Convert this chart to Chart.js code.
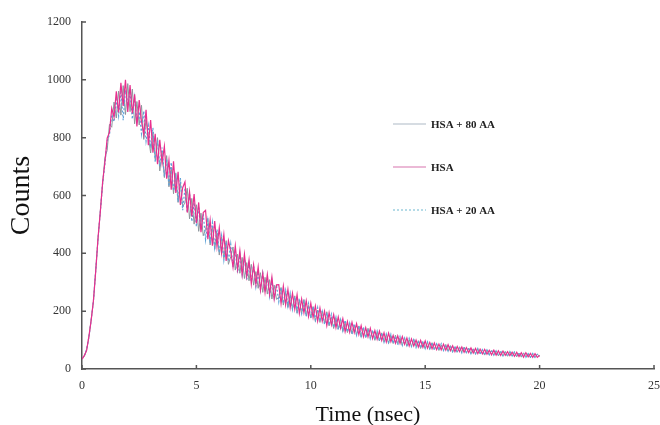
<!DOCTYPE html>
<html>
<head>
<meta charset="utf-8">
<script src="https://cdn.jsdelivr.net/npm/chart.js@4.4.1/dist/chart.umd.min.js"></script>
<style>
html, body { margin: 0; padding: 0; background: #fff; }
#wrap { width: 660px; height: 425px; }
</style>
</head>
<body>
<div id="wrap"><canvas id="myChart" width="660" height="425"></canvas></div>
<script>
var seriesNames = ["HSA + 80 AA", "HSA", "HSA + 20 AA"];
var timeStep = 0.1; // ns per channel, 0 .. 20 ns
var xTicks = [0, 5, 10, 15, 20, 25];
var yTicks = [0, 200, 400, 600, 800, 1000, 1200];

var hsa80 = [
    36, 44, 66, 108, 171, 233, 342, 448, 546, 638,
    730, 756, 846, 836, 923, 868, 961, 878, 980, 880,
    987, 890, 968, 848, 925, 844, 912, 794, 862, 806,
    747, 820, 725, 800, 685, 750, 662, 738, 630, 698,
    606, 677, 576, 645, 559, 577, 625, 519, 590, 501,
    568, 476, 539, 461, 483, 521, 429, 494, 414, 471,
    394, 457, 381, 444, 362, 388, 422, 342, 397, 331,
    386, 313, 368, 305, 362, 290, 337, 279, 333, 265,
    317, 259, 309, 242, 290, 241, 248, 282, 221, 268,
    213, 258, 206, 253, 193, 236, 192, 240, 184, 220,
    176, 216, 164, 204, 161, 201, 158, 198, 149, 179,
    140, 177, 138, 173, 130, 161, 126, 159, 122, 152,
    117, 149, 110, 140, 109, 141, 107, 131, 99, 129,
    97, 125, 93, 119, 88, 116, 88, 117, 87, 108,
    82, 107, 79, 102, 78, 103, 78, 98, 71, 94,
    71, 92, 68, 91, 68, 87, 64, 83, 64, 85,
    62, 81, 58, 77, 58, 77, 58, 76, 55, 72,
    53, 70, 51, 71, 52, 67, 48, 66, 49, 64,
    48, 63, 45, 60, 45, 61, 44, 60, 45, 57,
    42, 55, 41, 56, 42, 53, 39, 52, 40, 51,
    44
];

var hsa = [
    34, 46, 64, 112, 168, 237, 338, 453, 543, 645,
    714, 798, 818, 902, 871, 960, 887, 990, 910, 1000,
    889, 982, 884, 950, 839, 930, 856, 812, 896, 774,
    861, 748, 813, 708, 793, 712, 770, 658, 722, 620,
    718, 609, 682, 567, 627, 647, 541, 613, 528, 605,
    504, 576, 473, 541, 549, 449, 515, 426, 512, 423,
    488, 401, 465, 374, 444, 408, 352, 426, 345, 409,
    326, 397, 320, 377, 294, 360, 293, 353, 273, 331,
    265, 327, 259, 318, 242, 291, 292, 226, 287, 222,
    275, 212, 262, 207, 257, 192, 242, 194, 236, 182,
    228, 178, 218, 166, 211, 165, 200, 150, 195, 153,
    188, 143, 180, 141, 174, 129, 164, 127, 162, 126,
    157, 119, 150, 112, 143, 111, 141, 105, 133, 103,
    131, 99, 125, 93, 124, 94, 116, 89, 115, 88,
    112, 85, 107, 80, 104, 80, 100, 76, 99, 75,
    97, 72, 92, 70, 90, 67, 86, 66, 86, 65,
    84, 63, 80, 60, 78, 60, 76, 58, 74, 57,
    73, 55, 71, 53, 69, 52, 68, 51, 65, 49,
    65, 48, 63, 47, 62, 47, 60, 46, 58, 44,
    58, 43, 56, 41, 56, 42, 54, 40, 53, 40,
    47
];

var hsa20 = [
    35, 45, 67, 110, 169, 236, 341, 451, 544, 641,
    708, 788, 810, 880, 855, 932, 875, 964, 860, 964,
    917, 954, 864, 938, 855, 890, 814, 892, 788, 842,
    765, 834, 715, 790, 701, 766, 666, 726, 632, 714,
    616, 667, 578, 661, 549, 625, 541, 609, 510, 575,
    492, 562, 479, 537, 447, 513, 435, 506, 420, 483,
    402, 461, 377, 440, 372, 432, 352, 408, 333, 397,
    326, 383, 308, 365, 302, 358, 285, 335, 275, 331,
    267, 315, 251, 306, 246, 291, 232, 282, 227, 272,
    217, 262, 206, 249, 199, 244, 192, 232, 182, 226,
    176, 216, 170, 212, 165, 199, 154, 194, 151, 189,
    144, 179, 136, 171, 132, 169, 128, 159, 120, 156,
    117, 149, 114, 146, 107, 137, 105, 135, 103, 131,
    97, 125, 93, 121, 92, 120, 88, 113, 83, 112,
    82, 107, 81, 106, 78, 101, 74, 98, 73, 96,
    71, 94, 70, 91, 66, 87, 66, 87, 64, 83,
    62, 81, 60, 79, 58, 75, 56, 76, 57, 74,
    53, 70, 53, 71, 52, 67, 48, 66, 49, 66,
    48, 63, 47, 62, 45, 59, 44, 60, 45, 59,
    44, 57, 43, 54, 40, 53, 41, 54, 40, 51,
    45
];

var serif = "'Liberation Serif', 'Times New Roman', serif";

function toPoints(values) {
    return values.map(function (v, i) {
        return { x: +(i * timeStep).toFixed(1), y: v };
    });
}

function fixedTicks(list) {
    return function (s) {
        s.ticks = list.map(function (v) { return { value: v }; });
    };
}

// small tick marks drawn on the inside of both axes
var innerTicks = {
    id: 'innerTicks',
    afterDraw: function (chart) {
        var ctx = chart.ctx, sx = chart.scales.x, sy = chart.scales.y;
        ctx.save();
        ctx.strokeStyle = '#555';
        ctx.lineWidth = 1.5;
        ctx.beginPath();
        sy.ticks.forEach(function (t) {
            var py = sy.getPixelForValue(t.value);
            ctx.moveTo(sx.left, py);
            ctx.lineTo(sx.left + 4, py);
        });
        sx.ticks.forEach(function (t) {
            var px = sx.getPixelForValue(t.value);
            ctx.moveTo(px, sy.bottom);
            ctx.lineTo(px, sy.bottom - 4);
        });
        ctx.stroke();
        ctx.restore();
    }
};

// legend sitting inside the plot, to the right of the curves
var legendColors = ['#c9d1d8', '#e4a2c8', '#9dcfe0'];
var insideLegend = {
    id: 'insideLegend',
    afterDraw: function (chart) {
        var ctx = chart.ctx;
        var x0 = 393, y0 = 124, rowGap = 43;
        ctx.save();
        chart.data.datasets.forEach(function (ds, i) {
            var y = y0 + i * rowGap;
            ctx.strokeStyle = legendColors[i];
            ctx.lineWidth = 1.5;
            ctx.setLineDash(ds.borderDash || []);
            ctx.beginPath();
            ctx.moveTo(x0, y);
            ctx.lineTo(x0 + 33, y);
            ctx.stroke();
            ctx.setLineDash([]);
            ctx.fillStyle = '#222';
            ctx.font = 'bold 11px ' + serif;
            ctx.textBaseline = 'middle';
            ctx.fillText(ds.label, x0 + 38, y + 1);
        });
        ctx.restore();
    }
};

new Chart('myChart', {
    type: 'line',
    data: {
        datasets: [{
            label: seriesNames[0],
            data: toPoints(hsa80),
            borderColor: '#8d959c',
            borderWidth: 1,
            order: 2
        }, {
            label: seriesNames[1],
            data: toPoints(hsa),
            borderColor: '#e8308e',
            borderWidth: 1.2,
            order: 0
        }, {
            label: seriesNames[2],
            data: toPoints(hsa20),
            borderColor: '#5fa3d8',
            borderWidth: 1.2,
            borderDash: [2, 2],
            order: 1
        }]
    },
    options: {
        responsive: false,
        animation: false,
        events: [],
        elements: { point: { radius: 0 }, line: { tension: 0 } },
        layout: { padding: { top: 22, right: 0, bottom: 0, left: 0 } },
        plugins: { legend: { display: false }, tooltip: { enabled: false } },
        scales: {
            x: {
                type: 'linear',
                min: xTicks[0],
                max: xTicks[xTicks.length - 1],
                afterBuildTicks: fixedTicks(xTicks),
                afterFit: function (s) { s.height = 56; s.paddingRight = 6; s.paddingLeft = 0; },
                grid: { display: false, drawTicks: false },
                border: { display: true, color: '#555', width: 1.5 },
                ticks: {
                    padding: 10, color: '#333', font: { family: serif, size: 12 },
                    callback: function (v) { return String(v); }
                },
                title: {
                    display: true,
                    text: 'Time (nsec)',
                    color: '#111',
                    font: { family: serif, size: 22, lineHeight: 0.9 },
                    padding: 0
                }
            },
            y: {
                min: yTicks[0],
                max: yTicks[yTicks.length - 1],
                afterBuildTicks: fixedTicks(yTicks),
                afterFit: function (s) { s.width = 82; },
                grid: { display: false, drawTicks: false },
                border: { display: true, color: '#555', width: 1.5 },
                ticks: {
                    padding: 11, color: '#333', font: { family: serif, size: 12 },
                    callback: function (v) { return String(v); }
                },
                title: {
                    display: true,
                    text: 'Counts',
                    color: '#111',
                    font: { family: serif, size: 28 },
                    padding: { top: 5, bottom: 0 }
                }
            }
        }
    },
    plugins: [innerTicks, insideLegend]
});
</script>
</body>
</html>
